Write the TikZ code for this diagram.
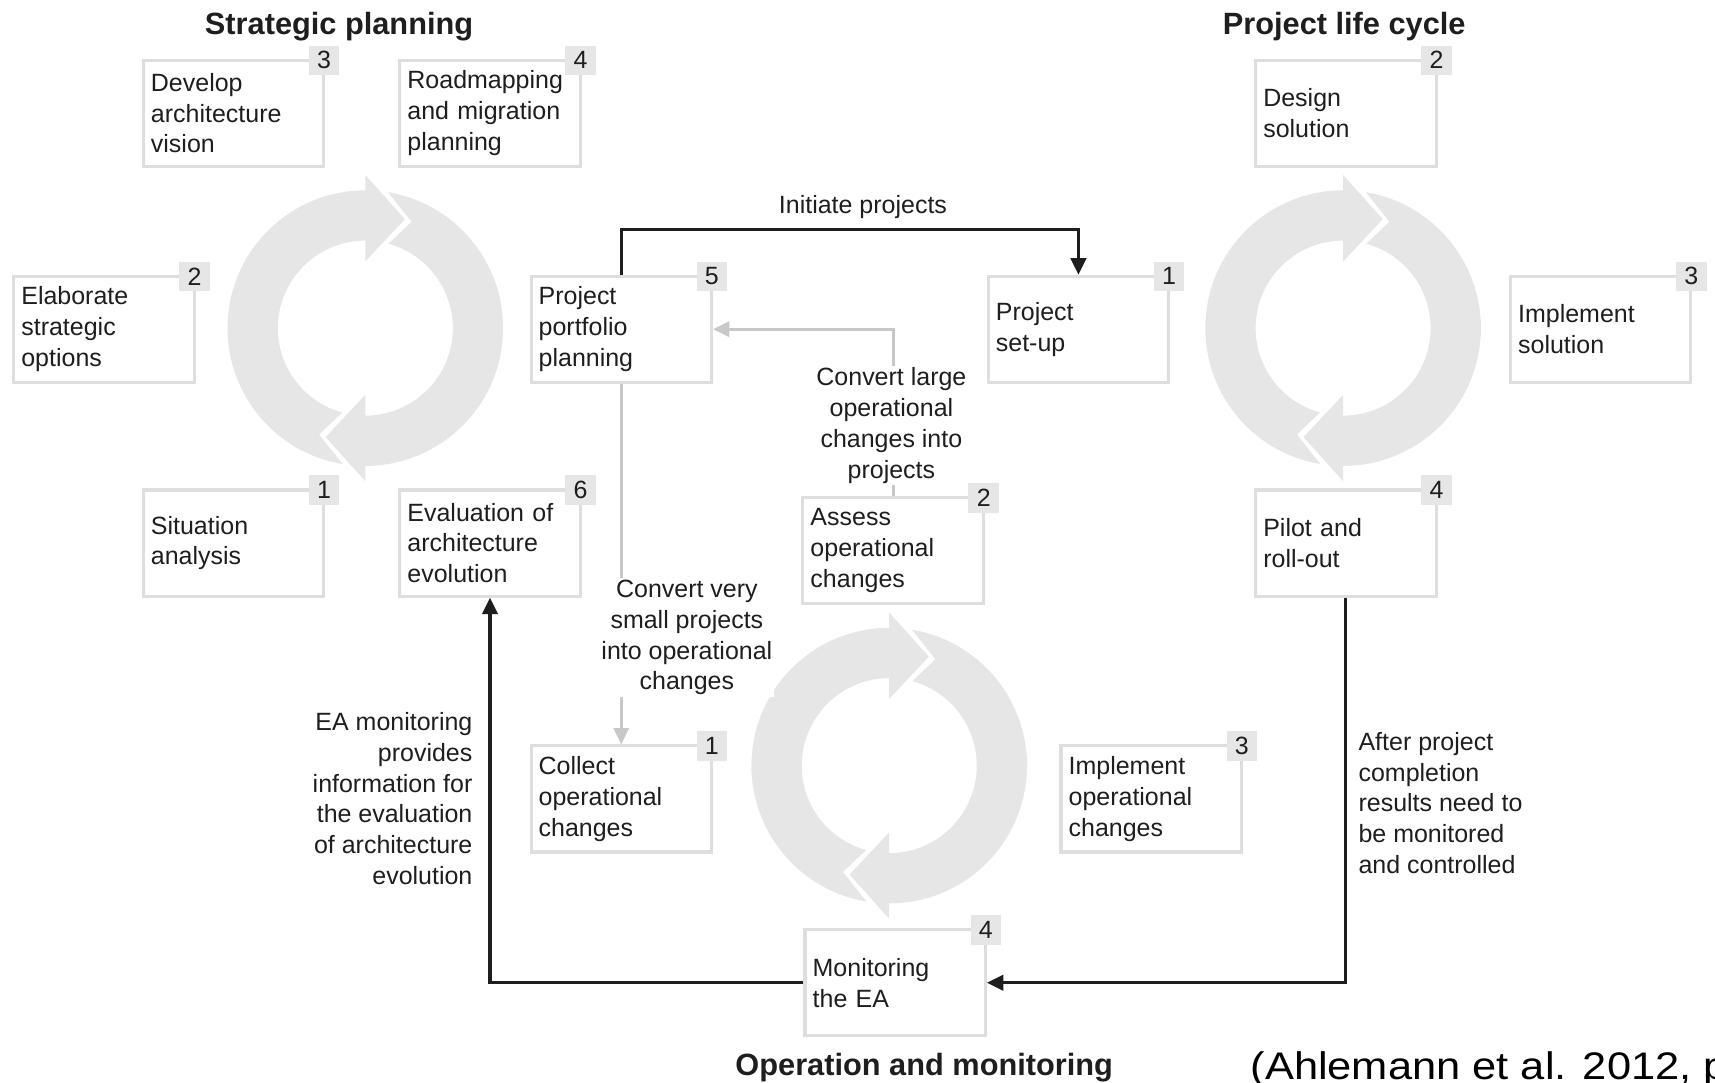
\documentclass[tikz,border=0pt]{standalone}
\usepackage{fontspec}
\setmainfont{Liberation Sans}
\usetikzlibrary{arrows.meta}
\definecolor{ringgray}{HTML}{E6E6E6}
\definecolor{boxgray}{HTML}{DEDEDE}
\definecolor{linegray}{HTML}{C8C8C8}
\definecolor{textdark}{HTML}{1E1E1E}
\tikzset{
  stepbox/.style={draw=boxgray, line width=1.6pt, fill=white, text width=3.02cm,
    minimum height=1.94cm, inner xsep=0.14cm, align=left,
    font=\fontsize{13}{16}\selectfont, text=textdark},
  numtag/.style={fill=ringgray, minimum width=0.56cm, minimum height=0.54cm,
    inner sep=0pt, font=\fontsize{13}{16}\selectfont, text=textdark},
  cycletitle/.style={font=\fontsize{16}{19}\selectfont\bfseries, text=textdark},
  flowlabel/.style={font=\fontsize{13}{16}\selectfont, text=textdark, inner sep=1pt},
  blackline/.style={draw=textdark, line width=1.6pt, -{Triangle[length=0.3cm, width=0.28cm]}},
  grayline/.style={draw=linegray, line width=1.6pt, -{Triangle[length=0.3cm, width=0.28cm]}},
}
\begin{document}
\begin{tikzpicture}[x=0.02cm, y=0.02cm]
  \useasboundingbox (0,0) rectangle (1568,-990);
  % cycle rings
  \foreach \cx/\cy in {334/300, 1228/300, 813/700}
    \foreach \rot in {0,180}
      \fill[ringgray, shift={(\cx,-\cy)}, rotate=\rot]
        (260.5:126) arc[start angle=260.5, end angle=90, radius=126]
        -- (90:140) -- (70:106) -- (90:61) -- (90:80)
        arc[start angle=90, end angle=254.7, radius=80]
        -- (246.5:106) -- cycle;

  % titles
  \node[cycletitle] (tsp) at (310,-24) {Strategic planning};
  \node[cycletitle] (tpl) at (1229,-24) {Project life cycle};
  \node[cycletitle] (tom) at (845,-976) {Operation and monitoring};

  % strategic planning
  \node[stepbox] (sp3) at (213.5,-103.5) {Develop\\architecture\\vision};
  \node[stepbox] (sp4) at (448,-103.5) {Roadmapping\\and migration\\planning};
  \node[stepbox] (sp2) at (95,-301) {Elaborate\\strategic\\options};
  \node[stepbox] (sp1) at (213.5,-496.5) {Situation\\analysis};
  \node[stepbox] (sp6) at (448,-496.5) {Evaluation of\\architecture\\evolution};
  \node[stepbox] (sp5) at (568,-301) {Project\\portfolio\\planning};

  % project life cycle
  \node[stepbox] (pl1) at (986,-301) {Project\\set-up};
  \node[stepbox] (pl2) at (1230.5,-103.5) {Design\\solution};
  \node[stepbox] (pl3) at (1463.5,-301) {Implement\\solution};
  \node[stepbox] (pl4) at (1230.5,-496.5) {Pilot and\\roll-out};

  % operation and monitoring
  \node[stepbox] (om2) at (816.5,-503.5) {Assess\\operational\\changes};
  \node[stepbox] (om1) at (568,-730.5) {Collect\\operational\\changes};
  \node[stepbox] (om3) at (1052.5,-730.5) {Implement\\operational\\changes};
  \node[stepbox] (om4) at (818.5,-898.5) {Monitoring\\the EA};

  % number tags
  \foreach \b/\n in {sp3/3, sp4/4, sp2/2, sp1/1, sp6/6, sp5/5, pl1/1, pl2/2,
                     pl3/3, pl4/4, om2/2, om1/1, om3/3, om4/4}
    \node[numtag] (\b-tag) at ([xshift=-0.02cm, yshift=-0.03cm]\b.north east) {\n};

  % connectors
  \draw[blackline] (sp5.north) -- ++(0,41) coordinate (initturn) -| (pl1.north);
  \node[flowlabel] (initlbl) at (789,-189) {Initiate projects};

  \draw[grayline] (om2.north) |- (sp5.east);
  \node[flowlabel, fill=white, align=center] (largelbl) at (815,-389)
    {Convert large\\operational\\changes into\\projects};

  \draw[grayline] (sp5.south) -- (om1.north);
  \node[flowlabel, fill=white, align=center] (smalllbl) at (628,-583)
    {Convert very\\small projects\\into operational\\changes};

  \draw[blackline] (om4.west) -| (sp6.south);
  \node[flowlabel, anchor=east, align=right] (evallbl) at (434,-730)
    {EA monitoring\\provides\\information for\\the evaluation\\of architecture\\evolution};

  \draw[blackline] (pl4.south) |- (om4.east);
  \node[flowlabel, anchor=west, align=left] (donelbl) at (1240,-734)
    {After project\\completion\\results need to\\be monitored\\and controlled};

  % source
  \node[font=\fontsize{20}{24}\selectfont, anchor=base west, inner sep=0pt,
    xscale=1.13, transform shape] (src)
    at (1143,-987) {(Ahlemann et al. 2012, p};
\end{tikzpicture}
\end{document}
